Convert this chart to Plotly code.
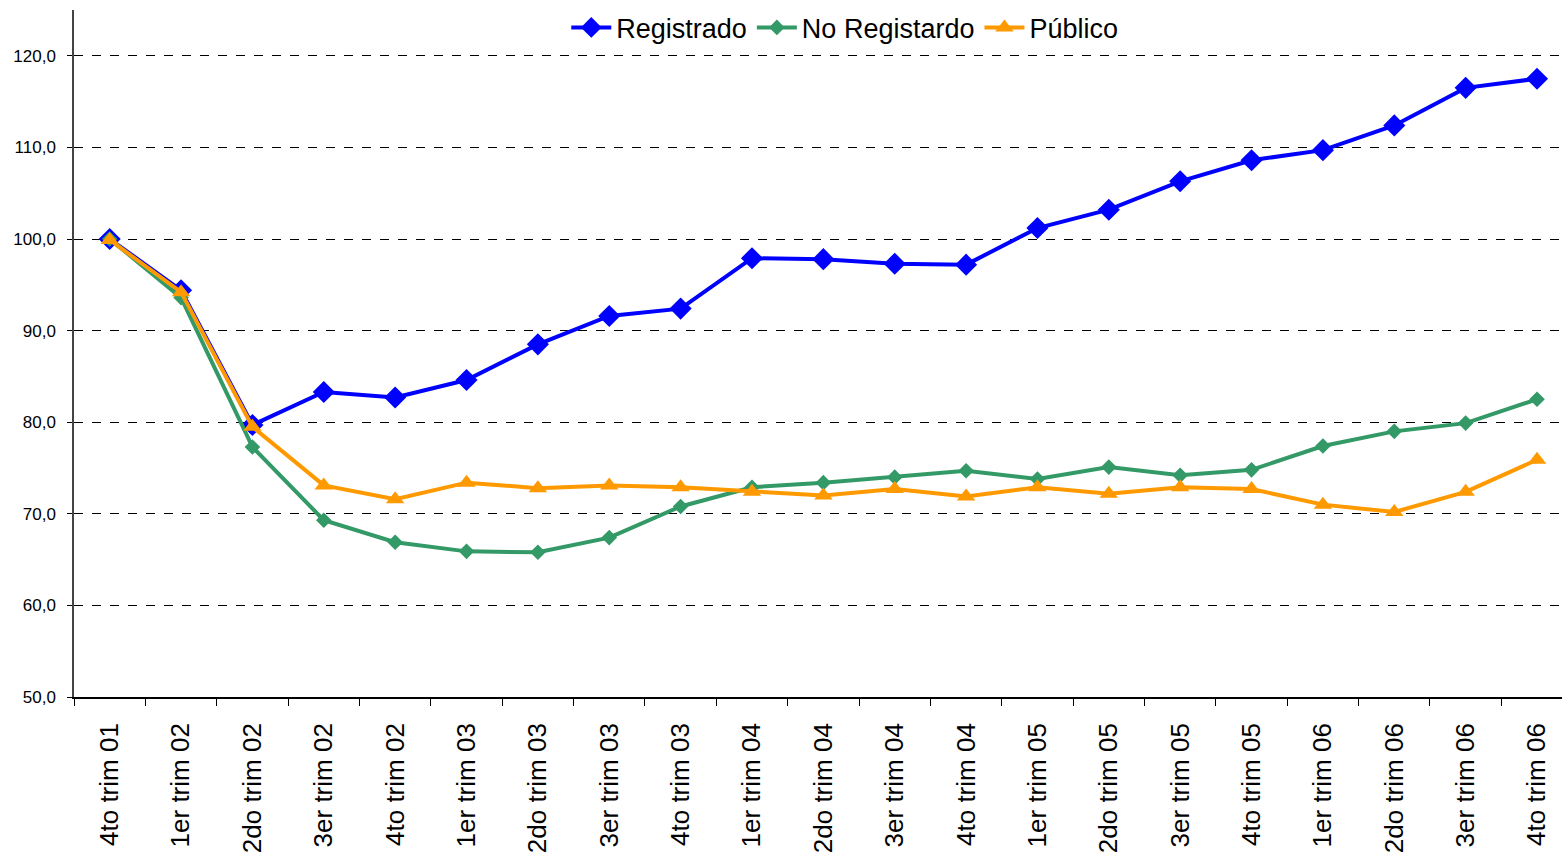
import plotly.graph_objects as go

categories = ["4to trim 01", "1er trim 02", "2do trim 02", "3er trim 02", "4to trim 02",
              "1er trim 03", "2do trim 03", "3er trim 03", "4to trim 03",
              "1er trim 04", "2do trim 04", "3er trim 04", "4to trim 04",
              "1er trim 05", "2do trim 05", "3er trim 05", "4to trim 05",
              "1er trim 06", "2do trim 06", "3er trim 06", "4to trim 06"]

registrado = [100.0, 94.4, 79.7, 83.3, 82.7, 84.6, 88.5, 91.6, 92.4, 97.9, 97.8,
              97.3, 97.2, 101.2, 103.2, 106.3, 108.6, 109.7, 112.4, 116.5, 117.5]
no_registrado = [100.0, 93.6, 77.3, 69.3, 66.9, 65.9, 65.8, 67.4, 70.8, 72.9, 73.4,
                 74.0, 74.7, 73.8, 75.1, 74.2, 74.8, 77.4, 79.0, 79.9, 82.5]
publico = [99.9, 94.2, 79.5, 73.1, 71.6, 73.4, 72.8, 73.1, 72.9, 72.4, 72.0,
           72.7, 71.9, 72.9, 72.2, 72.9, 72.7, 71.0, 70.2, 72.4, 75.9]

yticks = [50, 60, 70, 80, 90, 100, 110, 120]

fig = go.Figure()
fig.add_trace(go.Scatter(x=categories, y=registrado, name="Registrado", mode="lines+markers",
                         line=dict(color="#0000FF", width=4),
                         marker=dict(symbol="diamond", size=17, color="#0000FF")))
fig.add_trace(go.Scatter(x=categories, y=no_registrado, name="No Registardo", mode="lines+markers",
                         line=dict(color="#339966", width=4),
                         marker=dict(symbol="diamond", size=12, color="#339966")))
fig.add_trace(go.Scatter(x=categories, y=publico, name="Público", mode="lines+markers",
                         line=dict(color="#FF9900", width=4),
                         marker=dict(symbol="triangle-up", size=16, color="#FF9900")))

fig.update_layout(
    width=1562, height=853,
    margin=dict(l=74, r=0, t=10, b=156, autoexpand=False),
    paper_bgcolor="white", plot_bgcolor="white",
    font=dict(family="Arial, Liberation Sans, sans-serif", color="black"),
    separators=",.",
    legend=dict(orientation="h", x=0.518, xanchor="center", y=0.974, yanchor="middle",
                font=dict(size=27), bgcolor="rgba(0,0,0,0)", itemwidth=40,
                tracegroupgap=0),
    showlegend=True,
)
fig.update_xaxes(
    type="category", range=[-0.5, 20.35], showgrid=False, automargin=False,
    showline=True, linecolor="black", linewidth=1.5,
    ticks="outside", tickson="boundaries", ticklen=7, tickcolor="black",
    tickangle=-90, ticklabelstandoff=14,
    tickfont=dict(size=26, family="Arial, Liberation Sans, sans-serif"),
)
fig.update_yaxes(
    range=[50, 125], tickvals=yticks, tickformat=".1f", automargin=False,
    showgrid=True, gridcolor="black", griddash="dash", gridwidth=1,
    showline=True, linecolor="#444444", linewidth=1.5,
    ticks="outside", ticklen=5, tickcolor="black", ticklabelstandoff=8,
    tickfont=dict(size=17), zeroline=False,
)

fig.write_html("out.html", config={"displayModeBar": False},
               post_script="document.body.style.margin='0';document.body.style.overflow='hidden';")
